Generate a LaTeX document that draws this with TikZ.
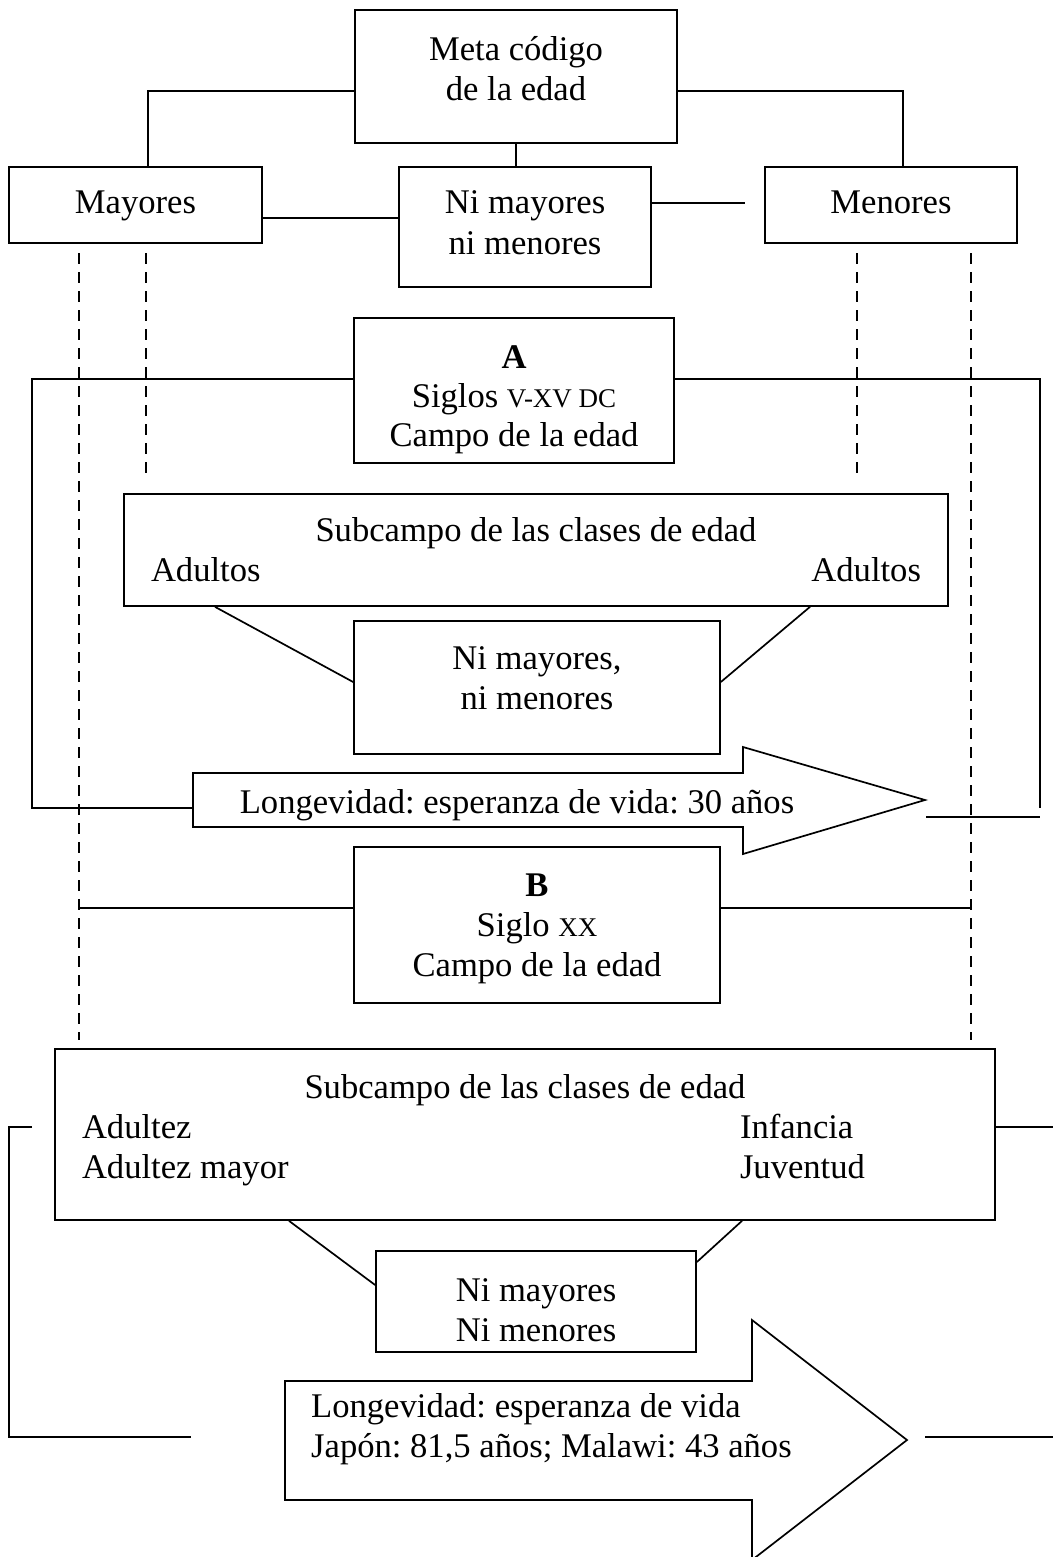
\documentclass[tikz,border=0pt]{standalone}
\usepackage{fontspec}
\setmainfont{Liberation Serif}
\usetikzlibrary{calc}
\newcommand\myfs{\fontsize{34.6pt}{40pt}\selectfont\frenchspacing}
\newcommand\myfsA{\fontsize{34.6pt}{39pt}\selectfont\frenchspacing}
\newcommand\mysc{\fontsize{27pt}{40pt}\selectfont}
\newcommand\mlines[1]{\begin{tabular}[t]{@{}c@{}}#1\end{tabular}}
\begin{document}
\begin{tikzpicture}[x=1pt,y=-1pt,
  box/.style={draw, line width=1.7pt, inner sep=0pt, font=\myfs, text height=0pt, text depth=0pt},
  conn/.style={line width=1.7pt},
  dashline/.style={line width=1.2pt, dash pattern=on 11pt off 8pt},
  lbl/.style={inner sep=0pt, font=\myfs}]
\useasboundingbox (0,0) rectangle (1053,1557);
\fill[white] (0,0) rectangle (1053,1557);

% boxes (text depth/height place the first baseline)
\node[box, minimum width=322pt, minimum height=133pt, text depth=32pt] (meta) at (516,76.5) {\mlines{Meta código\\de la edad}};
\node[box, minimum width=253pt, minimum height=76pt, text height=18pt] (mayores) at (135.5,205) {Mayores};
\node[box, minimum width=252pt, minimum height=120pt, text depth=26pt] (nimm) at (525,227) {\mlines{Ni mayores\\ni menores}};
\node[box, minimum width=252pt, minimum height=76pt, text height=18pt] (menores) at (891,205) {Menores};
\node[box, font=\myfsA, minimum width=320pt, minimum height=145pt, text depth=44pt] (boxA) at (514,390.5) {\mlines{\textbf{A}\\Siglos {\mysc V-XV DC}\\Campo de la edad}};
\node[box, minimum width=824pt, minimum height=112pt, text depth=18pt] (subA) at (536,550) {\mlines{Subcampo de las clases de edad\\\makebox[770pt]{Adultos\hfill Adultos}}};
\node[box, minimum width=366pt, minimum height=133pt, text depth=37pt] (nimA) at (537,687.5) {\mlines{Ni mayores,\\ni menores}};
\node[box, minimum width=366pt, minimum height=156pt, text depth=58pt] (boxB) at (537,925) {\mlines{\textbf{B}\\Siglo {\mysc XX}\\Campo de la edad}};
\node[box, minimum width=940pt, minimum height=171pt, text depth=73pt] (subB) at (525,1134.5) {\mlines{Subcampo de las clases de edad\\\makebox[886pt]{Adultez\hfill\makebox[228pt][l]{Infancia}}\\\makebox[886pt]{Adultez mayor\hfill\makebox[228pt][l]{Juventud}}}};
\node[box, minimum width=320pt, minimum height=101pt, text depth=0pt] (nimB) at (536,1301.5) {\mlines{Ni mayores\\Ni menores}};

% arrow A
\draw[conn] (193,773) -- (743,773) -- (743,747) -- (925,800) coordinate (arrAtip) -- (743,854) -- (743,827) -- (193,827) -- cycle;
\coordinate (arrAin) at (193,808);
\node[lbl, anchor=base] (arrAtext) at (517,813) {Longevidad: esperanza de vida: 30 años};

% arrow B
\draw[conn] (285,1381) -- (752,1381) -- (752,1320) -- (907,1440) coordinate (arrBtip) -- (752,1560) -- (752,1500) -- (285,1500) -- cycle;
\node[lbl, anchor=base west] (arrBtext) at (311,1417) {\begin{tabular}[t]{@{}l@{}}Longevidad: esperanza de vida\\Japón: 81,5 años; Malawi: 43 años\end{tabular}};

% dashed guides
\coordinate (d1t) at (79,253);  \coordinate (d1b) at (79,1040);
\coordinate (d2t) at (146,253); \coordinate (d2b) at (146,478);
\coordinate (d3t) at (857,253); \coordinate (d3b) at (857,478);
\coordinate (d4t) at (971,253); \coordinate (d4b) at (971,1040);
\draw[dashline] (d1t) -- (d1b);
\draw[dashline] (d2t) -- (d2b);
\draw[dashline] (d3t) -- (d3b);
\draw[dashline] (d4t) -- (d4b);

% top connectors
\draw[conn] (meta.west |- 0,91) -| (148,0 |- mayores.north);
\draw[conn] (meta.east |- 0,91) -| (903,0 |- menores.north);
\draw[conn] (meta.south) -- (meta.south |- nimm.north);
\draw[conn] (mayores.east |- 0,218) -- (nimm.west |- 0,218);
\coordinate (nimmfree) at (745,203);
\draw[conn] (nimm.east |- 0,203) -- (nimmfree);

% A connectors
\draw[conn] (boxA.west |- 0,379) -- (32,379) -- (32,808) -- (arrAin);
\draw[conn] (boxA.east |- 0,379) -- (1040,379) -- (1040,808);
\coordinate (rAfree) at (926,817);
\draw[conn] (rAfree) -- (1040,817);
\draw[conn] (215,0 |- subA.south) -- (nimA.west |- 0,682);
\draw[conn] (810,0 |- subA.south) -- (nimA.east |- 0,682);

% B connectors
\draw[conn] (d1t |- 0,908) -- (boxB.west |- 0,908);
\draw[conn] (boxB.east |- 0,908) -- (d4t |- 0,908);
\draw[conn] (32,1127) -- (9,1127) -- (9,1437) -- (191,1437);
\draw[conn] (subB.east |- 0,1127) -- (1053,1127);
\draw[conn] (289,0 |- subB.south) -- (nimB.west |- 0,1285);
\draw[conn] (742,0 |- subB.south) -- (nimB.east |- 0,1262);
\draw[conn] (925,1437) -- (1053,1437);
\end{tikzpicture}
\end{document}
